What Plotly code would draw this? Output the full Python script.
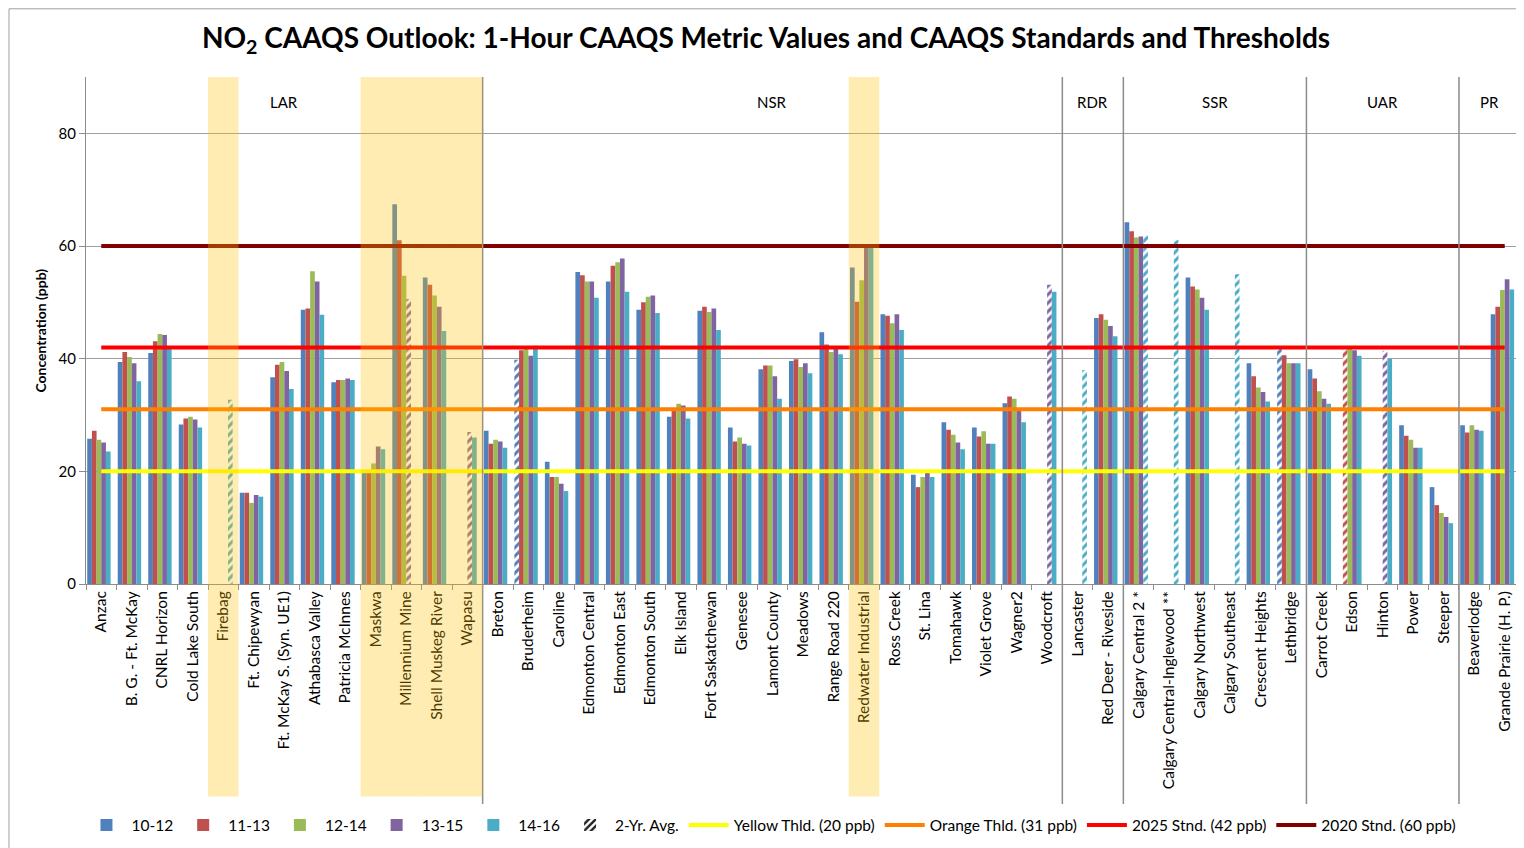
import plotly.graph_objects as go

categories = [
    "Anzac", "B. G. - Ft. McKay", "CNRL Horizon", "Cold Lake South", "Firebag",
    "Ft. Chipewyan", "Ft. McKay S. (Syn. UE1)", "Athabasca Valley", "Patricia McInnes",
    "Maskwa", "Millennium Mine", "Shell Muskeg River", "Wapasu",
    "Breton", "Bruderheim", "Caroline", "Edmonton Central", "Edmonton East",
    "Edmonton South", "Elk Island", "Fort Saskatchewan", "Genesee", "Lamont County",
    "Meadows", "Range Road 220", "Redwater Industrial", "Ross Creek", "St. Lina",
    "Tomahawk", "Violet Grove", "Wagner2", "Woodcroft",
    "Lancaster", "Red Deer - Riveside",
    "Calgary Central 2 *", "Calgary Central-Inglewood **", "Calgary Northwest",
    "Calgary Southeast", "Crescent Heights", "Lethbridge",
    "Carrot Creek", "Edson", "Hinton", "Power", "Steeper",
    "Beaverlodge", "Grande Prairie (H. P.)",
]

v_10_12 = [25.8, 39.4, 41.0, 28.3, None, 16.2, 36.7, 48.7, 35.8, 20.2, 67.4, 54.4, None,
           27.2, 39.8, 21.7, 55.4, 53.7, 48.7, 29.7, 48.5, 27.8, 38.1, 39.6, 44.7, 56.2,
           47.9, 19.4, 28.7, 27.8, 32.1, None,
           None, 47.2,
           64.2, None, 54.4, None, 39.2, 41.7,
           38.1, None, None, 28.2, 17.2,
           28.2, 47.9]
v_11_13 = [27.2, 41.2, 43.1, 29.4, None, 16.2, 38.9, 48.9, 36.2, 20.0, 61.0, 53.1, None,
           24.9, 41.5, 19.0, 54.8, 56.5, 50.0, 30.8, 49.2, 25.3, 38.8, 39.9, 42.5, 50.1,
           47.6, 17.2, 27.4, 26.2, 33.3, None,
           None, 47.9,
           62.6, None, 52.8, None, 36.9, 40.6,
           36.5, 41.7, None, 26.3, 14.0,
           26.9, 49.2]
v_12_14 = [25.6, 40.3, 44.4, 29.7, None, 14.4, 39.4, 55.5, 36.2, 21.4, 54.7, 51.2, None,
           25.6, 41.8, 19.0, 53.7, 57.1, 51.0, 32.0, 48.3, 26.0, 38.8, 38.5, 41.2, 53.9,
           46.3, 19.0, 26.5, 27.1, 32.9, None,
           None, 46.9,
           61.5, None, 52.3, None, 34.9, 39.2,
           34.2, 41.7, None, 25.6, 12.6,
           28.2, 52.2]
v_13_15 = [25.1, 39.2, 44.2, 29.2, None, 15.8, 37.8, 53.7, 36.5, 24.4, 50.6, 49.2, 27.0,
           25.3, 40.5, 17.8, 53.7, 57.8, 51.2, 31.7, 48.9, 24.9, 36.9, 39.2, 41.9, 59.9,
           47.9, 19.7, 25.1, 24.9, 31.2, 53.1,
           None, 45.8,
           61.7, None, 50.8, None, 34.1, 39.2,
           32.9, 41.5, 41.4, 24.2, 11.9,
           27.4, 54.1]
v_14_16 = [23.5, 36.0, 41.9, 27.8, 32.7, 15.5, 34.6, 47.8, 36.2, 23.9, None, 44.9, 26.0,
           24.2, 42.3, 16.5, 50.8, 51.9, 48.1, 29.4, 45.1, 24.6, 32.9, 37.4, 40.8, 59.9,
           45.1, 19.0, 23.9, 24.9, 28.7, 51.9,
           38.0, 44.0,
           61.8, 61.0, 48.7, 55.0, 32.4, 39.2,
           32.0, 40.5, 40.0, 24.2, 10.8,
           27.2, 52.3]

# which series is shown as a 2-year average (hatched) at each station
two_yr_avg_series = {
    "Firebag": "14-16", "Millennium Mine": "13-15", "Wapasu": "13-15",
    "Bruderheim": "10-12", "Woodcroft": "13-15", "Lancaster": "14-16",
    "Calgary Central 2 *": "14-16", "Calgary Central-Inglewood **": "14-16",
    "Calgary Southeast": "14-16", "Lethbridge": "10-12", "Edson": "11-13",
    "Hinton": "13-15",
}

series_names = ["10-12", "11-13", "12-14", "13-15", "14-16"]
series_values = [v_10_12, v_11_13, v_12_14, v_13_15, v_14_16]
series_colors = ["#4F81BD", "#C0504D", "#9BBB59", "#8064A2", "#4BACC6"]

regions = ["LAR", "NSR", "RDR", "SSR", "UAR", "PR"]
region_sizes = [13, 19, 2, 6, 5, 2]
highlighted = ["Firebag", "Maskwa", "Millennium Mine", "Shell Muskeg River",
               "Wapasu", "Redwater Industrial"]

thresholds = [20, 31, 42, 60]
threshold_names = ["Yellow Thld. (20 ppb)", "Orange Thld. (31 ppb)",
                   "2025 Stnd. (42 ppb)", "2020 Stnd. (60 ppb)"]
threshold_colors = ["#FFFF00", "#FF8000", "#FF0000", "#800000"]

FONT = "Lato"
fig = go.Figure()

for name, vals, col in zip(series_names, series_values, series_colors):
    pshapes = ["/" if two_yr_avg_series.get(c) == name else "" for c in categories]
    fig.add_trace(go.Bar(
        x=categories, y=vals, name=name,
        marker=dict(color=col, line=dict(width=0),
                    pattern=dict(shape=pshapes, fgcolor=col, bgcolor="white",
                                 fgopacity=1, size=6, solidity=0.5)),
    ))

fig.add_trace(go.Bar(
    x=categories, y=[None] * len(categories), name="2-Yr. Avg.",
    marker=dict(color="#222222", line=dict(width=0),
                pattern=dict(shape="/", fgcolor="#222222", bgcolor="white",
                             fgopacity=1, size=6, solidity=0.5)),
))

for val, name, col in zip(thresholds, threshold_names, threshold_colors):
    fig.add_trace(go.Scatter(
        x=categories, y=[val] * len(categories), name=name, mode="lines",
        line=dict(color=col, width=4),
    ))

shapes = []
annotations = []
start = 0
for reg, n in zip(regions, region_sizes):
    end = start + n
    annotations.append(dict(x=(start + end - 1) / 2, y=0.951, xref="x", yref="paper",
                            xanchor="center", yanchor="middle",
                            text=reg, showarrow=False,
                            font=dict(family=FONT, size=15, color="black")))
    if end < len(categories):
        shapes.append(dict(type="line", xref="x", yref="paper", x0=end - 0.5, x1=end - 0.5,
                           y0=-0.434, y1=1, line=dict(color="#8C8C8C", width=1.5)))
    start = end

for c in highlighted:
    i = categories.index(c)
    shapes.append(dict(type="rect", xref="x", yref="paper", x0=i - 0.5, x1=i + 0.5,
                       y0=-0.419, y1=1, fillcolor="#FFC000", opacity=0.3,
                       line=dict(width=0), layer="above"))

# outer chart border (left and top edges visible)
shapes.append(dict(type="line", xref="paper", yref="paper", x0=-0.0537, x1=-0.0537,
                   y0=-0.55, y1=1.1345, line=dict(color="#A0A0A0", width=1)))
shapes.append(dict(type="line", xref="paper", yref="paper", x0=-0.0537, x1=1.01,
                   y0=1.1345, y1=1.1345, line=dict(color="#A0A0A0", width=1)))

annotations.append(dict(x=-0.032, y=0.5, xref="paper", yref="paper",
                        xanchor="center", yanchor="middle",
                        text="<b>Concentration (ppb)</b>", textangle=-90, showarrow=False,
                        font=dict(family=FONT, size=14, color="black")))

fig.update_layout(
    width=1516, height=840,
    margin=dict(l=78, r=4, t=69, b=263.5),
    paper_bgcolor="white", plot_bgcolor="white",
    barmode="group", bargap=0.08, bargroupgap=0,
    title=dict(text="<b>NO<sub>2</sub> CAAQS Outlook: 1-Hour CAAQS Metric Values and CAAQS Standards and Thresholds</b>",
               x=0.5, xanchor="center", y=0.9643, yanchor="middle",
               font=dict(family=FONT, size=28, color="black")),
    font=dict(family=FONT, size=15, color="black"),
    showlegend=True,
    legend=dict(orientation="h", x=0.478, xanchor="center", y=-0.476, yanchor="middle",
                itemwidth=40,
                font=dict(family=FONT, size=15.5, color="black"), traceorder="normal"),
    shapes=shapes, annotations=annotations,
)
fig.update_xaxes(type="category", tickangle=-90, ticks="outside", tickson="boundaries",
                 ticklen=5, tickcolor="#8C8C8C", showline=True, linecolor="#8C8C8C",
                 linewidth=1, showgrid=False, tickfont=dict(family=FONT, size=15.5),
                 range=[-0.5, len(categories) - 0.5])
fig.update_yaxes(range=[0, 90], tickvals=[0, 20, 40, 60, 80], ticks="outside", ticklen=6,
                 tickcolor="#8C8C8C", showline=True, linecolor="#8C8C8C", linewidth=1,
                 showgrid=True, gridcolor="#A0A0A0", gridwidth=1, zeroline=False,
                 tickfont=dict(family=FONT, size=15))

fig.write_html("out.html")
